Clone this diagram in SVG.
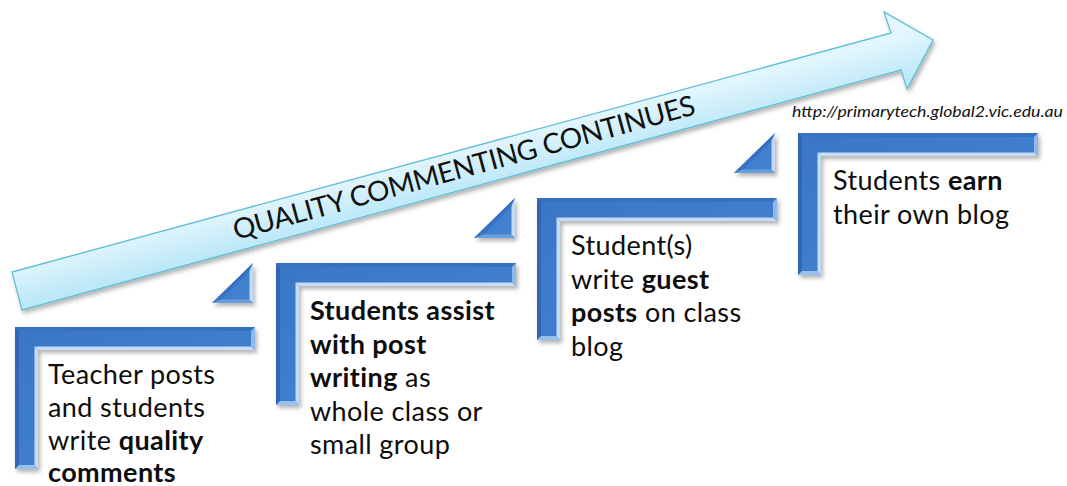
<svg xmlns="http://www.w3.org/2000/svg" xmlns:xlink="http://www.w3.org/1999/xlink" width="1067" height="486" viewBox="0 0 1067 486">
<style>
.t{font-family:Lato,"Open Sans","Liberation Sans",sans-serif;font-size:27px;letter-spacing:0.4px;fill:#0d0d0d}
.b{font-weight:bold}
.title{font-family:Lato,"Open Sans","Liberation Sans",sans-serif;font-size:28px;fill:#111}
.url{font-family:Lato,"Open Sans","Liberation Sans",sans-serif;font-size:15px;font-style:italic;fill:#111}
</style>
<defs>
<filter id="sh" x="-10%" y="-10%" width="130%" height="130%">
<feDropShadow dx="2" dy="3" stdDeviation="2" flood-color="#000" flood-opacity="0.3"/>
</filter>
<linearGradient id="arrowFill" gradientUnits="userSpaceOnUse" x1="400" y1="166" x2="410" y2="205">
<stop offset="0" stop-color="#e2f6fd"/>
<stop offset="1" stop-color="#bce8f7"/>
</linearGradient>
<linearGradient id="face" x1="0" y1="0" x2="1" y2="1">
<stop offset="0" stop-color="#3a76c7"/>
<stop offset="1" stop-color="#4585d4"/>
</linearGradient>
<g id="lshape" filter="url(#sh)">
<path d="M0,0 H240 V23 H23 V142 H0 Z" fill="url(#face)"/>
<polygon points="0,0 240,0 236,4 4,4" fill="#3870c2"/>
<polygon points="0,0 4,4 4,138 0,142" fill="#3166b4"/>
<polygon points="240,23 236,19.5 19.5,19.5 23,23" fill="#c4dcf7"/>
<polygon points="23,23 19.5,19.5 19.5,138 23,142" fill="#c4dcf7"/>
<polygon points="240,0 240,23 236,19.5 236,4" fill="#8fb9ea"/>
<polygon points="0,142 23,142 19.5,138 4,138" fill="#98c0ed"/>
</g>
<g id="tri" filter="url(#sh)">
<polygon points="0,40 41,0 41,40" fill="url(#face)"/>
<polygon points="0,40 41,0 37.5,8 9,36.5" fill="#3870c2"/>
<polygon points="41,0 41,40 37.5,36.5 37.5,8" fill="#c4dcf7"/>
<polygon points="0,40 41,40 37.5,36.5 9,36.5" fill="#6a9fde"/>
</g>
</defs>
<rect width="1067" height="486" fill="#ffffff"/>
<g id="arrow">
<polygon points="12,272 891,33 884,12 933,40 907,89 901,70 22,310" fill="url(#arrowFill)" stroke="#62bdd6" stroke-width="1.3" stroke-linejoin="miter" filter="url(#sh)"/>
<text class="title" transform="translate(466.5,177) rotate(-15.3)" text-anchor="middle" textLength="478" lengthAdjust="spacing">QUALITY COMMENTING CONTINUES</text>
</g>
<g id="connectors"></g>
<g id="step1">
<use xlink:href="#lshape" x="15" y="327"/>
<text class="t"><tspan x="48" y="384">Teacher posts</tspan><tspan x="48" y="417">and students</tspan><tspan x="48" y="450">write <tspan class="b">quality</tspan></tspan><tspan x="48" y="482" class="b">comments</tspan></text>
</g>
<g id="step2">
<use xlink:href="#tri" x="212" y="263"/>
<use xlink:href="#lshape" x="276" y="263"/>
<text class="t"><tspan x="310" y="320" class="b">Students assist</tspan><tspan x="310" y="353.5" class="b">with post</tspan><tspan x="310" y="387"><tspan class="b">writing</tspan> as</tspan><tspan x="310" y="420.5">whole class or</tspan><tspan x="310" y="454">small group</tspan></text>
</g>
<g id="step3">
<use xlink:href="#tri" x="474" y="198"/>
<use xlink:href="#lshape" x="537" y="198"/>
<text class="t"><tspan x="571" y="255">Student(s)</tspan><tspan x="571" y="288.5">write <tspan class="b">guest</tspan></tspan><tspan x="571" y="322"><tspan class="b">posts</tspan> on class</tspan><tspan x="571" y="355.5">blog</tspan></text>
</g>
<g id="step4">
<use xlink:href="#tri" x="734" y="133"/>
<use xlink:href="#lshape" x="798" y="133"/>
<text class="t"><tspan x="833" y="190">Students <tspan class="b">earn</tspan></tspan><tspan x="833" y="223.5">their own blog</tspan></text>
</g>
<g id="source">
<text class="url" x="792" y="117" textLength="271" lengthAdjust="spacingAndGlyphs">http://primarytech.global2.vic.edu.au</text>
</g>
</svg>
